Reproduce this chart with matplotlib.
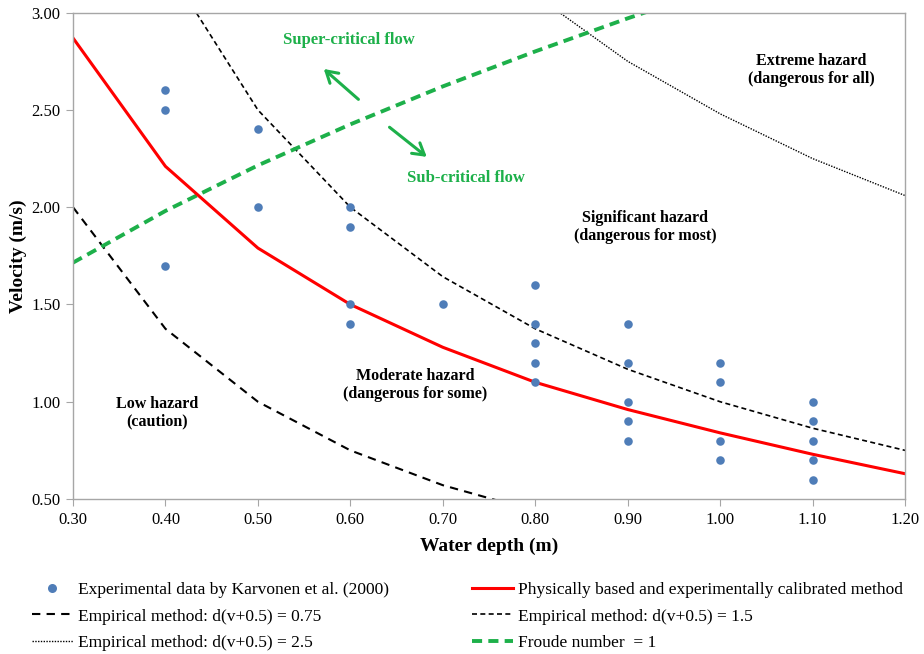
import matplotlib
matplotlib.use("Agg")
import matplotlib.pyplot as plt
from matplotlib.lines import Line2D

plt.rcParams['font.family'] = ['Liberation Serif', 'DejaVu Serif']

# Experimental data (Karvonen et al., 2000)
exp_depth = [0.4, 0.4, 0.4,
             0.5, 0.5,
             0.6, 0.6, 0.6, 0.6,
             0.7,
             0.8, 0.8, 0.8, 0.8, 0.8,
             0.9, 0.9, 0.9, 0.9, 0.9,
             1.0, 1.0, 1.0, 1.0,
             1.1, 1.1, 1.1, 1.1, 1.1]
exp_velocity = [2.6, 2.5, 1.7,
                2.4, 2.0,
                2.0, 1.9, 1.5, 1.4,
                1.5,
                1.6, 1.4, 1.3, 1.2, 1.1,
                1.4, 1.2, 1.0, 0.9, 0.8,
                1.2, 1.1, 0.8, 0.7,
                1.0, 0.9, 0.8, 0.7, 0.6]

# Curves sampled at 0.1 m depth steps
depth = [0.3, 0.4, 0.5, 0.6, 0.7, 0.8, 0.9, 1.0, 1.1, 1.2]
v_physical = [2.87, 2.21, 1.79, 1.50, 1.28, 1.10, 0.96, 0.84, 0.73, 0.63]
v_emp_075 = [2.00, 1.375, 1.00, 0.75, 0.571, 0.4375, 0.333, 0.25, 0.182, 0.125]
v_emp_15 = [4.50, 3.25, 2.50, 2.00, 1.643, 1.375, 1.167, 1.00, 0.864, 0.75]
v_emp_25 = [6.50, 4.75, 3.80, 3.35, 3.20, 3.09, 2.75, 2.48, 2.25, 2.06]
v_froude = [1.715, 1.981, 2.215, 2.426, 2.621, 2.801, 2.971, 3.132, 3.285, 3.431]

x_ticks = [0.30, 0.40, 0.50, 0.60, 0.70, 0.80, 0.90, 1.00, 1.10, 1.20]
y_ticks = [0.50, 1.00, 1.50, 2.00, 2.50, 3.00]

BLUE = '#4F7DB8'
RED = '#FF0000'
GREEN = '#1DB04A'
GRID = '#A6A6A6'

fig = plt.figure(figsize=(9.24, 6.54), dpi=100)
ax = fig.add_axes([0.079, 0.237, 0.9005, 0.7436])

ax.plot(depth, v_emp_075, color='black', lw=1.5, linestyle=(0, (4, 3)))
ax.plot(depth, v_emp_15, color='black', lw=1.2, linestyle=(0, (3, 2)))
ax.plot(depth, v_emp_25, color='black', lw=1.0, linestyle=(0, (1, 1)))
ax.plot(depth, v_froude, color=GREEN, lw=2.8, linestyle=(0, (2.6, 1.6)))
ax.plot(depth, v_physical, color=RED, lw=2.2)
ax.scatter(exp_depth, exp_velocity, s=38, color=BLUE, zorder=5, linewidths=0)

ax.set_xlim(0.3, 1.2)
ax.set_ylim(0.5, 3.0)
ax.set_xticks(x_ticks)
ax.set_yticks(y_ticks)
ax.set_xticklabels([f"{t:.2f}" for t in x_ticks], fontsize=12)
ax.set_yticklabels([f"{t:.2f}" for t in y_ticks], fontsize=12)
for s in ax.spines.values():
    s.set_color(GRID)
    s.set_linewidth(1.0)
ax.tick_params(direction='out', length=5, color=GRID, pad=4)

ax.set_xlabel('Water depth (m)', fontsize=14, fontweight='bold', labelpad=7)
ax.set_ylabel('Velocity (m/s)', fontsize=14, fontweight='bold', labelpad=3)

# Zone annotations
txt = dict(fontsize=11.5, fontweight='bold', ha='center', va='center',
           linespacing=1.15)
ax.text(1.099, 2.705, 'Extreme hazard\n(dangerous for all)', **txt)
ax.text(0.919, 1.90, 'Significant hazard\n(dangerous for most)', **txt)
ax.text(0.67, 1.085, 'Moderate hazard\n(dangerous for some)', **txt)
ax.text(0.391, 0.945, 'Low hazard\n(caution)', **txt)
ax.text(0.5986, 2.86, 'Super-critical flow', color=GREEN, fontsize=12,
        fontweight='bold', ha='center', va='center')
ax.text(0.725, 2.15, 'Sub-critical flow', color=GREEN, fontsize=12,
        fontweight='bold', ha='center', va='center')

arrow = dict(arrowstyle='->,head_length=0.5,head_width=0.3', color=GREEN,
             lw=2.2, mutation_scale=16)
ax.annotate('', xy=(0.569, 2.72), xytext=(0.611, 2.545), arrowprops=arrow)
ax.annotate('', xy=(0.685, 2.25), xytext=(0.64, 2.42), arrowprops=arrow)

# Legend below the axes, in two explicitly placed columns
h_exp = Line2D([], [], marker='o', linestyle='none', color=BLUE,
               markersize=6.5, markeredgewidth=0)
h_075 = Line2D([], [], color='black', lw=1.5, linestyle=(0, (4, 3)))
h_25 = Line2D([], [], color='black', lw=1.0, linestyle=(0, (1, 1)))
h_phys = Line2D([], [], color=RED, lw=2.2)
h_15 = Line2D([], [], color='black', lw=1.2, linestyle=(0, (3, 2)))
h_fr = Line2D([], [], color=GREEN, lw=2.8, linestyle=(0, (2.6, 1.6)))

leg_kw = dict(loc='upper left', frameon=False, fontsize=12.5,
              handlelength=2.35, handletextpad=0.3, labelspacing=0.6,
              borderaxespad=0)
fig.legend([h_exp, h_075, h_25],
           ['Experimental data by Karvonen et al. (2000)',
            'Empirical method: d(v+0.5) = 0.75',
            'Empirical method: d(v+0.5) = 2.5'],
           bbox_to_anchor=(0.027, 0.121), **leg_kw)
fig.legend([h_phys, h_15, h_fr],
           ['Physically based and experimentally calibrated method',
            'Empirical method: d(v+0.5) = 1.5',
            'Froude number  = 1'],
           bbox_to_anchor=(0.503, 0.121), **leg_kw)

fig.savefig('out.png', dpi=100)
